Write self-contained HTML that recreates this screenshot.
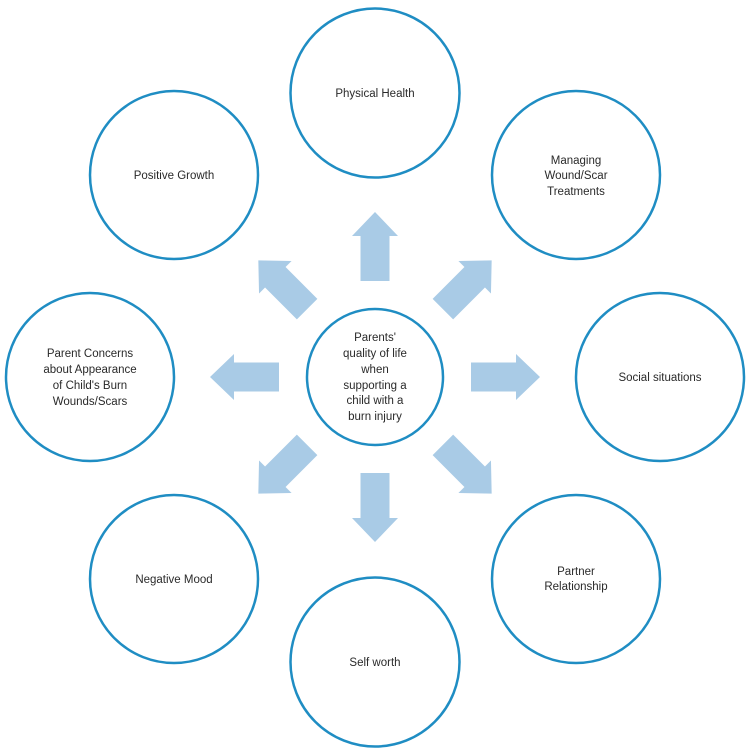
<!DOCTYPE html>
<html><head><meta charset="utf-8"><style>
html,body{margin:0;padding:0;background:#fff;}
svg text{font-family:"Liberation Sans",Arial,sans-serif;font-size:11.5px;fill:#2a2a2a;text-anchor:middle;}
</style></head><body>
<svg width="750" height="750" viewBox="0 0 750 750" xmlns="http://www.w3.org/2000/svg">
<defs>
<polygon id="arr" points="96,-14.5 141,-14.5 141,-23 165,0 141,23 141,14.5 96,14.5" fill="#a9cbe6"/>
</defs>
<g transform="translate(375,377)">
<use href="#arr" transform="rotate(-90)"/>
<use href="#arr" transform="rotate(-45)"/>
<use href="#arr" transform="rotate(0)"/>
<use href="#arr" transform="rotate(45)"/>
<use href="#arr" transform="rotate(90)"/>
<use href="#arr" transform="rotate(135)"/>
<use href="#arr" transform="rotate(180)"/>
<use href="#arr" transform="rotate(225)"/>
</g>
<g fill="#fff" stroke="#1f8dc3" stroke-width="2.5">
<circle cx="375" cy="93" r="84.5"/>
<circle cx="174" cy="175" r="84"/>
<circle cx="576" cy="175" r="84"/>
<circle cx="660" cy="377" r="84"/>
<circle cx="90" cy="377" r="84"/>
<circle cx="174" cy="579" r="84"/>
<circle cx="576" cy="579" r="84"/>
<circle cx="375" cy="662" r="84.5"/>
<circle cx="375" cy="377" r="68"/>
</g>
<text x="375" y="97">Physical Health</text>
<text x="174" y="179">Positive Growth</text>
<text x="576" y="164">Managing</text>
<text x="576" y="179">Wound/Scar</text>
<text x="576" y="195">Treatments</text>
<text x="660" y="381">Social situations</text>
<text x="90" y="357">Parent Concerns</text>
<text x="90" y="373">about Appearance</text>
<text x="90" y="389">of Child's Burn</text>
<text x="90" y="405">Wounds/Scars</text>
<text x="174" y="583">Negative Mood</text>
<text x="576" y="575">Partner</text>
<text x="576" y="590">Relationship</text>
<text x="375" y="666">Self worth</text>
<text x="375" y="341">Parents'</text>
<text x="375" y="357">quality of life</text>
<text x="375" y="373">when</text>
<text x="375" y="389">supporting a</text>
<text x="375" y="404">child with a</text>
<text x="375" y="420">burn injury</text>
</svg>
</body></html>
